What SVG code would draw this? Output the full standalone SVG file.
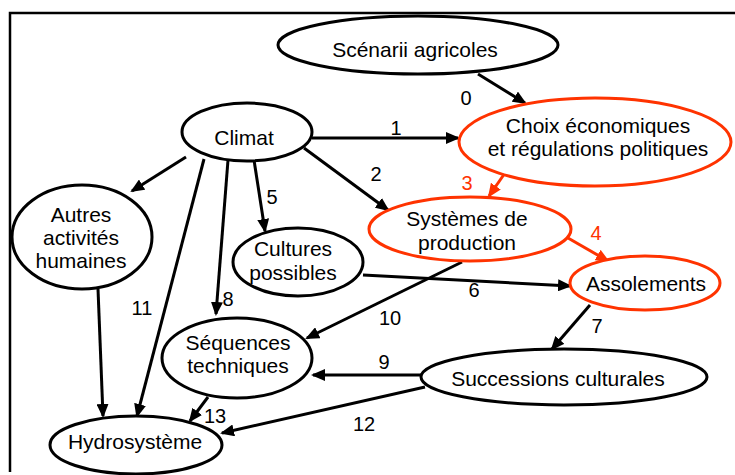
<svg xmlns="http://www.w3.org/2000/svg" width="735" height="475" viewBox="0 0 735 475">
<style>
  .node { fill: #ffffff; stroke: #000000; stroke-width: 3; }
  .node.red { stroke: #ff3300; }
  .t { font-family: "Liberation Sans", Arial, sans-serif; font-size: 21px; fill: #000000; text-anchor: middle; }
  .lbl { font-family: "Liberation Sans", Arial, sans-serif; font-size: 20px; fill: #000000; text-anchor: middle; }
  .lbl.red { fill: #ff3300; }
  .c { fill: none; stroke: #000000; stroke-width: 3; marker-end: url(#ah); }
  .c.red { stroke: #ff3300; marker-end: url(#ahr); }
</style>
<defs>
  <marker id="ah" markerUnits="userSpaceOnUse" markerWidth="14" markerHeight="12" refX="12" refY="6" orient="auto">
    <path d="M0,0 L14,6 L0,12 Z" fill="#000000"/>
  </marker>
  <marker id="ahr" markerUnits="userSpaceOnUse" markerWidth="14" markerHeight="12" refX="12" refY="6" orient="auto">
    <path d="M0,0 L14,6 L0,12 Z" fill="#ff3300"/>
  </marker>
</defs>
<rect width="735" height="475" fill="#ffffff"/>
<path d="M10,472 V13 H735" fill="none" stroke="#000000" stroke-width="2.5"/>

<g id="connectors">
  <line class="c" x1="478" y1="74" x2="525" y2="103"/>
  <line class="c" x1="312" y1="138" x2="458" y2="138"/>
  <line class="c" x1="304" y1="148" x2="388" y2="210"/>
  <line class="c red" x1="505" y1="173" x2="489" y2="196"/>
  <line class="c red" x1="568" y1="238" x2="608" y2="261"/>
  <line class="c" x1="254" y1="160" x2="265" y2="231"/>
  <line class="c" x1="363" y1="275" x2="570" y2="286"/>
  <line class="c" x1="590" y1="305" x2="552" y2="349"/>
  <line class="c" x1="228" y1="160" x2="216" y2="314"/>
  <line class="c" x1="421" y1="375" x2="313" y2="375"/>
  <line class="c" x1="462" y1="262" x2="307" y2="338"/>
  <line class="c" x1="204" y1="159" x2="137" y2="416"/>
  <line class="c" x1="98" y1="289" x2="103" y2="416"/>
  <line class="c" x1="186" y1="157" x2="132" y2="191"/>
  <line class="c" x1="425" y1="387" x2="222" y2="433"/>
  <line class="c" x1="208" y1="397" x2="190" y2="421"/>
  <text class="lbl" x="466" y="105">0</text>
  <text class="lbl" x="396" y="135">1</text>
  <text class="lbl" x="376" y="181">2</text>
  <text class="lbl red" x="467" y="190">3</text>
  <text class="lbl red" x="596" y="240">4</text>
  <text class="lbl" x="272" y="204">5</text>
  <text class="lbl" x="474" y="297">6</text>
  <text class="lbl" x="597" y="333">7</text>
  <text class="lbl" x="228" y="306">8</text>
  <text class="lbl" x="384" y="369">9</text>
  <text class="lbl" x="390" y="325">10</text>
  <text class="lbl" x="142" y="315">11</text>
  <text class="lbl" x="364" y="431">12</text>
  <text class="lbl" x="215" y="423">13</text>
</g>

<g id="scenarii">
  <ellipse class="node" cx="418" cy="45" rx="140" ry="29"/>
  <text class="t" x="415" y="57">Scénarii agricoles</text>
</g>
<g id="choix">
  <ellipse class="node red" cx="595" cy="142" rx="136" ry="44"/>
  <text class="t" x="598" y="133">Choix économiques</text>
  <text class="t" x="598" y="156">et régulations politiques</text>
</g>
<g id="climat">
  <ellipse class="node" cx="247" cy="132" rx="65" ry="29"/>
  <text class="t" x="244" y="145">Climat</text>
</g>
<g id="autres">
  <ellipse class="node" cx="82" cy="237" rx="70" ry="52"/>
  <text class="t" x="81" y="222">Autres</text>
  <text class="t" x="81" y="245">activités</text>
  <text class="t" x="81" y="268">humaines</text>
</g>
<g id="systemes">
  <ellipse class="node red" cx="470" cy="229" rx="101" ry="32"/>
  <text class="t" x="467" y="226">Systèmes de</text>
  <text class="t" x="467" y="250">production</text>
</g>
<g id="cultures">
  <ellipse class="node" cx="298" cy="262" rx="65" ry="34"/>
  <text class="t" x="293" y="256">Cultures</text>
  <text class="t" x="293" y="280">possibles</text>
</g>
<g id="assolements">
  <ellipse class="node red" cx="645" cy="283" rx="75" ry="27"/>
  <text class="t" x="646" y="291">Assolements</text>
</g>
<g id="sequences">
  <ellipse class="node" cx="237" cy="358" rx="75" ry="40"/>
  <text class="t" x="238" y="350">Séquences</text>
  <text class="t" x="238" y="373">techniques</text>
</g>
<g id="successions">
  <ellipse class="node" cx="564" cy="377" rx="143" ry="28"/>
  <text class="t" x="558" y="386">Successions culturales</text>
</g>
<g id="hydrosysteme">
  <ellipse class="node" cx="136" cy="445" rx="86" ry="29"/>
  <text class="t" x="135" y="449">Hydrosystème</text>
</g>
</svg>
